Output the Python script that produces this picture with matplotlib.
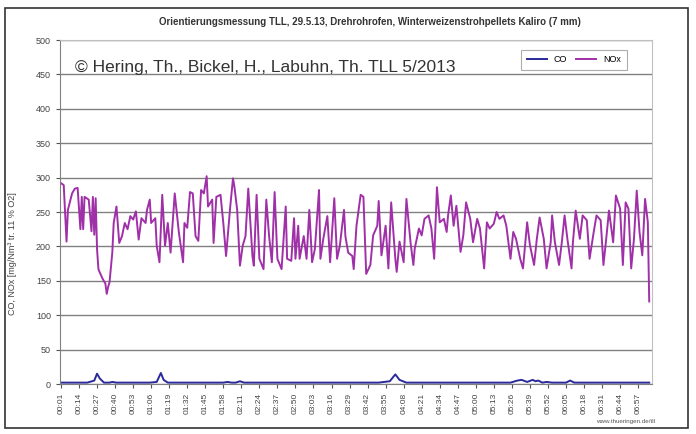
import matplotlib
matplotlib.use("Agg")
import matplotlib.pyplot as plt
from matplotlib.patches import Rectangle

# ---- data (elapsed minutes, mg/Nm3) ----
nox_min = [1, 3, 5, 6, 9, 11, 13, 15, 16, 17, 18, 21, 23, 24, 25, 26, 27, 28, 29, 31, 33, 34, 35, 36,
           38, 39, 41, 43, 45, 47, 49, 51, 53, 55, 57, 59, 62, 63, 65, 66, 69, 70, 72, 74, 76, 78,
           80, 83, 86, 89, 90, 92, 94, 96, 98, 100, 102, 104, 106, 107, 110, 111, 113, 116, 118,
           120, 123, 125, 126, 128, 130, 132, 134, 136, 139, 140, 142, 144, 147, 149, 151, 153,
           155, 157, 160, 163, 164, 167, 169, 170, 172, 173, 176, 178, 180, 182, 184, 187, 188,
           190, 193, 195, 198, 200, 202, 205, 206, 208, 211, 212, 214, 217, 219,
           221, 224, 226, 229, 230, 232, 235, 237, 239, 242, 243, 245, 248, 250, 253, 255, 256,
           259, 261, 263, 266, 268, 270, 272, 274, 277, 279, 280, 282, 284, 286, 289, 291, 293,
           296, 298, 301, 303, 306, 308, 310, 313, 315, 317, 320, 322, 325, 327, 329, 332, 334,
           337, 339, 342, 344, 346, 349, 351, 354, 355, 357, 360, 362, 364, 366, 369, 370, 372,
           375, 377, 380, 382, 385, 387, 390, 392, 394, 396, 399, 401, 404, 406, 408, 410, 412,
           414, 416, 418, 420, 422, 424, 425]
nox_val = [292, 289, 207, 253, 277, 284, 285, 225, 272, 225, 272, 268, 222, 272, 217, 270, 196, 167,
           162, 153, 146, 131, 141, 148, 191, 234, 258, 205, 215, 234, 225, 244, 239, 251, 210, 241,
           234, 253, 268, 234, 241, 201, 177, 275, 201, 234, 191, 277, 220, 177, 234, 227, 279, 277,
           215, 208, 282, 277, 302, 258, 268, 205, 272, 275, 234, 186, 258, 299, 287, 253, 172, 201,
           215, 284, 186, 172, 275, 182, 167, 268, 215, 177, 279, 182, 167, 258, 182, 179, 241, 182,
           230, 182, 215, 182, 253, 177, 196, 282, 182, 210, 244, 177, 270, 182, 201, 253, 215, 191,
           186, 167, 230, 275, 272,
           160, 173, 216, 230, 266, 187, 230, 168, 264, 182, 163, 207, 177, 269, 205, 173, 197,
           226, 216, 240, 245, 226, 182, 286, 235, 240, 221, 245, 274, 230, 259, 192, 216, 264,
           240, 206, 240, 226, 168, 235, 226, 233, 250, 240, 245, 230, 182, 221, 211, 182, 168,
           235, 202, 173, 211, 242, 211, 168, 206, 245, 206, 173, 206, 245, 211, 168, 206, 252,
           211, 245, 238, 182, 221, 245, 238, 173, 211, 252, 206, 274, 255, 173, 264, 255, 168,
           211, 281, 221, 187, 269, 235, 120]

co_min = [1, 10, 20, 25, 27, 29, 32, 36, 38, 41, 50, 65, 70, 73, 75, 78, 90, 110, 118, 121, 124,
          127, 130, 133, 140, 160, 177, 180, 184, 200, 230, 238, 242, 245, 250, 270, 300, 325,
          330, 333, 337, 341, 343, 345, 348, 351, 355, 365, 368, 371, 380, 400, 425]
co_val = [2, 2, 2, 5, 15, 8, 2, 2, 3, 2, 2, 2, 3, 16, 6, 2, 2, 2, 2, 3, 2, 2, 4, 2, 2, 2, 2, 2,
          2, 2, 2, 4, 14, 6, 2, 2, 2, 2, 5, 6, 3, 6, 4, 5, 2, 3, 2, 2, 5, 2, 2, 2, 2]

tick_labels = ["00:01", "00:14", "00:27", "00:40", "00:53", "01:06", "01:19", "01:32", "01:45",
               "01:58", "02:11", "02:24", "02:37", "02:50", "03:03", "03:16", "03:29", "03:42",
               "03:55", "04:08", "04:21", "04:34", "04:47", "05:00", "05:13", "05:26", "05:39",
               "05:52", "06:05", "06:18", "06:31", "06:44", "06:57"]
tick_pos = [int(s[:2]) * 60 + int(s[3:]) for s in tick_labels]

title = "Orientierungsmessung TLL, 29.5.13, Drehrohrofen, Winterweizenstrohpellets Kaliro (7 mm)"
copyright_txt = "© Hering, Th., Bickel, H., Labuhn, Th. TLL 5/2013"

plt.rcParams['font.family'] = ['Liberation Sans', 'DejaVu Sans']

fig = plt.figure(figsize=(6.96, 4.34), dpi=100)
fig.patch.set_facecolor('white')
# outer chart frame
fig.patches.append(Rectangle((5 / 696, 1 - 428 / 434), 683 / 696, 420 / 434,
                             transform=fig.transFigure, fill=False, edgecolor='#333333',
                             linewidth=1.2))

ax = fig.add_axes([60 / 696, 1 - 384 / 434, 592 / 696, 344 / 434])
ax.set_facecolor('white')

ax.plot(co_min, co_val, color='#2a2a9a', linewidth=1.4, label='CO')
ax.plot(nox_min, nox_val, color='#a030a8', linewidth=1.4, label='NOx')

ax.set_xlim(0.3, 427)
ax.set_ylim(0, 500)
ax.set_yticks(range(0, 501, 50))
ax.tick_params(axis='y', labelsize=6.5, colors='#555555', length=3)
ax.set_xticks(tick_pos)
ax.set_xticklabels(tick_labels, rotation=90, fontsize=6, color='#444444')
ax.tick_params(axis='x', length=3, colors='#555555')
for lab in ax.get_xticklabels() + ax.get_yticklabels():
    lab.set_color('#444444')

ax.grid(axis='y', color='#808080', linewidth=1)
ax.set_axisbelow(True)
for s in ['top', 'right']:
    ax.spines[s].set_color('#c0c0c0')
for s in ['left', 'bottom']:
    ax.spines[s].set_color('#808080')

ax.set_ylabel("CO, NOx [mg/Nm³ tr. 11 % O2]", fontsize=6.5, color='#444444')
ax.yaxis.set_label_coords(-0.072, 0.38)

fig.text(370 / 696, 1 - 22 / 434, title, ha='center', va='center', fontsize=7,
         fontweight='bold', color='#333333')
ax.text(0.025, 0.92, copyright_txt, transform=ax.transAxes, fontsize=12.5,
        color='#333333', va='center', ha='left')

leg = ax.legend(loc='upper right', bbox_to_anchor=(0.965, 0.985), ncol=2, fontsize=6.5,
                frameon=True, fancybox=False, edgecolor='#999999', handlelength=2.2,
                columnspacing=1.0, borderpad=0.6)
leg.get_frame().set_linewidth(0.8)

fig.text(655 / 696, 1 - 422 / 434, "www.thueringen.de/tll", ha='right', va='center',
         fontsize=4.5, color='#555555')

fig.savefig("out.png", dpi=100)
